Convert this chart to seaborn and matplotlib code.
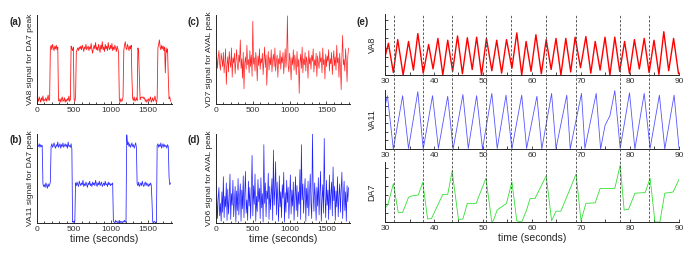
import numpy as np
import pandas as pd
import matplotlib
matplotlib.use("Agg")
import matplotlib.pyplot as plt
import seaborn as sns
from matplotlib.ticker import MultipleLocator

sns.set_style("ticks")
plt.rcParams['font.family'] = ['Liberation Sans', 'DejaVu Sans']

# long recordings, one value every DT seconds (0 ... 1800 s)
DT = 10

# (a) VA8 signal for DA7 peak
va8_long = [
    0.04, 0.06, 0.03, 0.08, 0.05, 0.02, 0.07, 0.04, 0.09, 0.03,
    0.05, 0.04, 0.07, 0.03, 0.06, 0.10, 0.04, 0.05, 0.62, 0.66,
    0.61, 0.67, 0.63, 0.60, 0.65, 0.62, 0.66, 0.61, 0.64, 0.04,
    0.03, 0.06, 0.02, 0.05, 0.08, 0.03, 0.04, 0.07, 0.02, 0.05,
    0.03, 0.06, 0.04, 0.09, 0.03, 0.05, 0.65, 0.62, 0.60, 0.64,
    0.05, 0.03, 0.08, 0.58, 0.61, 0.63, 0.60, 0.64, 0.62, 0.65,
    0.61, 0.66, 0.63, 0.59, 0.64, 0.62, 0.67, 0.61, 0.63, 0.65,
    0.60, 0.64, 0.62, 0.68, 0.61, 0.57, 0.63, 0.66, 0.62, 0.69,
    0.61, 0.64, 0.60, 0.67, 0.63, 0.58, 0.66, 0.62, 0.70, 0.61,
    0.64, 0.59, 0.67, 0.62, 0.65, 0.60, 0.69, 0.63, 0.61, 0.66,
    0.62, 0.68, 0.60, 0.64, 0.61, 0.66, 0.63, 0.59, 0.65, 0.62,
    0.58, 0.05, 0.02, 0.06, 0.03, 0.04, 0.08, 0.60, 0.66, 0.70,
    0.63, 0.61, 0.67, 0.64, 0.60, 0.65, 0.62, 0.66, 0.28, 0.06,
    0.04, 0.08, 0.03, 0.05, 0.07, 0.04, 0.63, 0.60, 0.30, 0.05,
    0.07, 0.08, 0.07, 0.08, 0.06, 0.07, 0.03, 0.05, 0.02, 0.04,
    0.06, 0.03, 0.05, 0.08, 0.02, 0.04, 0.07, 0.03, 0.05, 0.09,
    0.04, 0.02, 0.06, 0.63, 0.67, 0.72, 0.64, 0.61, 0.66, 0.62,
    0.65, 0.60, 0.64, 0.35, 0.63, 0.58, 0.62, 0.30, 0.06, 0.08,
    0.03,
]

# (b) VA11 signal for DA7 peak
va11_long = [
    0.84, 0.87, 0.86, 0.89, 0.85, 0.88, 0.86, 0.87, 0.44, 0.41,
    0.43, 0.40, 0.45, 0.42, 0.39, 0.44, 0.41, 0.43, 0.46, 0.86,
    0.89, 0.85, 0.87, 0.90, 0.86, 0.84, 0.88, 0.86, 0.91, 0.85,
    0.87, 0.89, 0.84, 0.88, 0.86, 0.90, 0.85, 0.87, 0.89, 0.86,
    0.88, 0.84, 0.91, 0.86, 0.87, 0.85, 0.89, 0.83, 0.01, 0.02,
    0.00, 0.02, 0.45, 0.42, 0.46, 0.43, 0.41, 0.47, 0.44, 0.42,
    0.45, 0.43, 0.48, 0.41, 0.44, 0.42, 0.46, 0.43, 0.40, 0.45,
    0.43, 0.47, 0.42, 0.44, 0.41, 0.46, 0.43, 0.45, 0.42, 0.48,
    0.44, 0.41, 0.45, 0.43, 0.47, 0.42, 0.44, 0.46, 0.41, 0.43,
    0.45, 0.42, 0.47, 0.43, 0.44, 0.41, 0.46, 0.43, 0.45, 0.42,
    0.44, 0.43, 0.45, 0.02, 0.01, 0.00, 0.03, 0.01, 0.02, 0.00,
    0.01, 0.03, 0.00, 0.02, 0.01, 0.00, 0.02, 0.01, 0.03, 0.01,
    0.02, 0.99, 0.88, 0.91, 0.86, 0.89, 0.85, 0.87, 0.90, 0.86,
    0.88, 0.84, 0.87, 0.90, 0.85, 0.44, 0.42, 0.46, 0.41, 0.43,
    0.45, 0.42, 0.47, 0.43, 0.41, 0.44, 0.46, 0.42, 0.45, 0.43,
    0.41, 0.44, 0.42, 0.45, 0.43, 0.25, 0.01, 0.00, 0.02, 0.01,
    0.00, 0.02, 0.87, 0.89, 0.85, 0.88, 0.86, 0.90, 0.84, 0.87,
    0.89, 0.85, 0.88, 0.86, 0.87, 0.84, 0.88, 0.86, 0.52, 0.43,
    0.45,
]

# (c) VD7 signal for AVAL peak
vd7_long = [
    0.48, 0.55, 0.40, 0.52, 0.60, 0.45, 0.38, 0.57, 0.50, 0.42,
    0.58, 0.35, 0.47, 0.62, 0.22, 0.44, 0.53, 0.36, 0.59, 0.48,
    0.41, 0.63, 0.30, 0.52, 0.46, 0.57, 0.34, 0.49, 0.61, 0.43,
    0.38, 0.55, 0.47, 0.72, 0.40, 0.51, 0.29, 0.58, 0.17, 0.46,
    0.53, 0.39, 0.66, 0.44, 0.50, 0.35, 0.60, 0.42, 0.55, 0.31,
    0.93, 0.45, 0.52, 0.37, 0.58, 0.48, 0.26, 0.54, 0.43, 0.62,
    0.39, 0.51, 0.46, 0.57, 0.33, 0.49, 0.64, 0.41, 0.55, 0.21,
    0.47, 0.59, 0.38, 0.52, 0.44, 0.61, 0.36, 0.50, 0.56, 0.42,
    0.63, 0.37, 0.48, 0.55, 0.30, 0.51, 0.45, 0.60, 0.39, 0.53,
    0.46, 0.58, 0.34, 0.49, 0.62, 0.41, 0.54, 0.99, 0.43, 0.36,
    0.57, 0.48, 0.27, 0.52, 0.44, 0.61, 0.38, 0.55, 0.47, 0.33,
    0.59, 0.42, 0.50, 0.12, 0.46, 0.56, 0.40, 0.64, 0.35, 0.51,
    0.44, 0.58, 0.37, 0.53, 0.47, 0.29, 0.60, 0.45, 0.52, 0.39,
    0.55, 0.48, 0.62, 0.36, 0.50, 0.43, 0.57, 0.31, 0.54, 0.46,
    0.40, 0.59, 0.47, 0.52, 0.35, 0.63, 0.44, 0.50, 0.28, 0.56,
    0.42, 0.54, 0.48, 0.61, 0.37, 0.51, 0.45, 0.58, 0.33, 0.49,
    0.60, 0.43, 0.53, 0.38, 0.66, 0.46, 0.52, 0.30, 0.57, 0.41,
    0.16, 0.55, 0.77, 0.44, 0.50, 0.37, 0.62, 0.47, 0.25, 0.53,
    0.63,
]

# (d) VD6 signal for AVAL peak
vd6_long = [
    0.15, 0.32, 0.05, 0.28, 0.40, 0.08, 0.22, 0.02, 0.35, 0.12,
    0.52, 0.06, 0.30, 0.18, 0.45, 0.03, 0.38, 0.10, 0.27, 0.55,
    0.04, 0.33, 0.20, 0.48, 0.07, 0.25, 0.41, 0.01, 0.36, 0.14,
    0.50, 0.09, 0.29, 0.44, 0.02, 0.37, 0.16, 0.53, 0.06, 0.31,
    0.58, 0.11, 0.26, 0.03, 0.47, 0.19, 0.40, 0.05, 0.34, 0.76,
    0.08, 0.42, 0.21, 0.55, 0.02, 0.30, 0.13, 0.49, 0.24, 0.39,
    0.05, 0.51, 0.17, 0.33, 0.01, 0.88, 0.22, 0.45, 0.07, 0.36,
    0.27, 0.56, 0.04, 0.41, 0.15, 0.32, 0.50, 0.03, 0.82, 0.20,
    0.38, 0.69, 0.09, 0.46, 0.25, 0.02, 0.53, 0.18, 0.35, 0.06,
    0.43, 0.28, 0.57, 0.01, 0.34, 0.12, 0.48, 0.23, 0.40, 0.05,
    0.31, 0.54, 0.10, 0.37, 0.19, 0.46, 0.03, 0.29, 0.52, 0.14,
    0.42, 0.07, 0.35, 0.21, 0.60, 0.04, 0.88, 0.26, 0.44, 0.11,
    0.33, 0.50, 0.02, 0.39, 0.17, 0.47, 0.08, 0.31, 0.55, 0.22,
    0.05, 1.00, 0.36, 0.13, 0.45, 0.28, 0.03, 0.40, 0.19, 0.51,
    0.09, 0.34, 0.58, 0.02, 0.26, 0.43, 0.11, 0.95, 0.30, 0.06,
    0.48, 0.20, 0.37, 0.04, 0.54, 0.15, 0.32, 0.46, 0.08, 0.63,
    0.25, 0.41, 0.03, 0.36, 0.18, 0.52, 0.07, 0.30, 0.44, 0.12,
    0.38, 0.57, 0.05, 0.29, 0.47, 0.14, 0.35, 0.02, 0.42, 0.24,
    0.40,
]

# (e) zoom on 30-90 s: (time, value) vertices
va8_short = [
    (30.0, 0.30), (30.7, 0.52), (31.7, 0.04), (32.6, 0.58), (33.7, 0.00),
    (34.8, 0.55), (35.8, 0.08), (36.7, 0.68), (37.8, 0.03), (38.9, 0.50),
    (39.8, 0.10), (40.8, 0.60), (41.8, 0.00), (42.8, 0.57), (43.8, 0.06),
    (44.8, 0.64), (45.8, 0.02), (46.8, 0.61), (47.8, 0.09), (48.7, 0.62),
    (49.7, 0.00), (50.7, 0.60), (51.8, 0.07), (52.8, 0.57), (53.8, 0.03),
    (54.8, 0.58), (55.9, 0.11), (56.9, 0.69), (57.9, 0.00), (58.8, 0.55),
    (59.8, 0.06), (60.8, 0.66), (61.9, 0.02), (62.9, 0.58), (63.9, 0.09),
    (64.9, 0.60), (65.9, 0.00), (66.9, 0.60), (67.9, 0.05), (68.8, 0.62),
    (69.9, 0.12), (71.0, 0.63), (72.0, 0.03), (72.9, 0.55), (73.9, 0.08),
    (74.9, 0.62), (75.9, 0.00), (76.9, 0.62), (77.9, 0.06), (78.9, 0.55),
    (79.9, 0.02), (80.9, 0.58), (81.9, 0.10), (82.9, 0.60), (83.9, 0.04),
    (84.9, 0.57), (85.9, 0.01), (86.9, 0.71), (87.9, 0.07), (88.9, 0.60),
    (89.9, 0.02),
]
va11_short = [
    (30.0, 0.75), (30.5, 0.93), (31.7, 0.00), (33.6, 0.93), (34.8, 0.01),
    (36.7, 1.00), (37.8, 0.00), (39.7, 0.93), (40.9, 0.01), (42.8, 0.92),
    (43.9, 0.00), (45.9, 0.95), (47.0, 0.01), (48.7, 0.93), (49.9, 0.00),
    (51.8, 0.97), (52.9, 0.01), (54.7, 0.94), (55.9, 0.00), (57.9, 0.94),
    (58.9, 0.01), (61.0, 0.92), (62.0, 0.00), (64.0, 0.97), (64.9, 0.01),
    (67.1, 0.94), (67.8, 0.00), (70.1, 0.97), (70.8, 0.01), (73.1, 0.97),
    (74.0, 0.00), (74.9, 0.41), (75.9, 0.58), (76.9, 1.02), (78.0, 0.01),
    (79.9, 0.98), (81.0, 0.00), (82.9, 0.97), (84.1, 0.01), (86.0, 0.94),
    (87.1, 0.00), (89.0, 0.94), (90.0, 0.02),
]
da7_short = [
    (30.0, 0.23), (30.6, 0.29), (31.7, 0.64), (32.7, 0.16), (33.6, 0.16),
    (34.8, 0.41), (35.2, 0.43), (36.8, 0.45), (37.7, 0.66), (38.7, 0.05),
    (39.5, 0.06), (41.8, 0.46), (42.8, 0.46), (43.7, 0.85), (45.0, 0.04),
    (45.9, 0.05), (46.8, 0.31), (48.6, 0.31), (50.6, 0.73), (51.8, 0.00),
    (52.1, 0.02), (52.9, 0.20), (54.8, 0.31), (55.9, 0.67), (56.9, 0.02),
    (57.9, 0.00), (58.9, 0.20), (59.6, 0.39), (60.6, 0.39), (62.9, 0.77),
    (64.0, 0.02), (64.9, 0.18), (65.9, 0.18), (69.0, 0.80), (70.0, 0.02),
    (71.0, 0.31), (72.9, 0.32), (73.9, 0.56), (76.9, 0.56), (78.0, 0.95),
    (78.8, 0.20), (79.7, 0.21), (81.0, 0.48), (83.1, 0.49), (84.1, 0.73),
    (85.1, 0.00), (86.1, 0.00), (87.1, 0.48), (88.8, 0.50), (90.0, 0.71),
]
# DA7 peak times marked by the dashed lines
da7_peaks = [31.8, 37.8, 43.7, 50.6, 55.8, 62.9, 68.9, 77.9, 83.9]

W, H = 691, 259
fig = plt.figure(figsize=(W / 100, H / 100), dpi=100)


def px_axes(left, top, right, bottom):
    # axes box given in pixels measured from the top-left corner
    return fig.add_axes([left / W, 1 - bottom / H, (right - left) / W, (bottom - top) / H])


def long_df(values):
    return pd.DataFrame({'t': np.arange(len(values)) * DT, 'v': values})


def short_df(pairs):
    return pd.DataFrame(pairs, columns=['t', 'v'])


def style_long(ax, ylabel, xlabel=None):
    sns.despine(ax=ax)
    ax.set_xlim(0, 1820)
    ax.set_ylim(0, 1)
    ax.set_xticks([0, 500, 1000, 1500])
    ax.xaxis.set_minor_locator(MultipleLocator(100))
    ax.set_yticks([])
    ax.tick_params(axis='x', which='major', direction='in', length=2.5, width=0.6,
                   labelsize=6, pad=2, colors='#333333')
    ax.tick_params(axis='x', which='minor', direction='in', length=1.8, width=0.6)
    ax.set_ylabel(ylabel, fontsize=6, labelpad=2)
    ax.set_xlabel(xlabel if xlabel else '', fontsize=7.5, labelpad=1)
    for s in ax.spines.values():
        s.set_linewidth(0.7)


def style_short(ax, ylabel, xlabel=None):
    sns.despine(ax=ax)
    ax.set_facecolor('none')
    ax.set_xlim(30, 90)
    ax.set_xticks(range(30, 91, 10))
    ax.xaxis.set_minor_locator(MultipleLocator(5))
    ax.yaxis.set_major_locator(MultipleLocator(0.15))
    ax.tick_params(axis='x', which='major', direction='in', length=2.5, width=0.6,
                   labelsize=6, pad=2, colors='#333333')
    ax.tick_params(axis='x', which='minor', direction='in', length=2, width=0.6)
    ax.tick_params(axis='y', direction='in', length=2.5, width=0.6, labelleft=False)
    ax.set_ylabel(ylabel, fontsize=6.5, labelpad=6)
    ax.set_xlabel(xlabel if xlabel else '', fontsize=7.5, labelpad=1)
    for s in ax.spines.values():
        s.set_linewidth(0.7)


# ---- (a) and (b)
ax_a = px_axes(37, 15, 172, 104)
sns.lineplot(data=long_df(va8_long), x='t', y='v', ax=ax_a, color='#ff1a1a', linewidth=0.6)
style_long(ax_a, 'VA8 signal for DA7 peak')

ax_b = px_axes(37, 134, 172, 223)
sns.lineplot(data=long_df(va11_long), x='t', y='v', ax=ax_b, color='#3333ff', linewidth=0.6)
style_long(ax_b, 'VA11 signal for DA7 peak', 'time (seconds)')

# ---- (c) and (d)
ax_c = px_axes(216, 15, 350, 104)
sns.lineplot(data=long_df(vd7_long), x='t', y='v', ax=ax_c, color='#ff2020', linewidth=0.5)
style_long(ax_c, 'VD7 signal for AVAL peak')

ax_d = px_axes(216, 134, 350, 223)
sns.lineplot(data=long_df(vd6_long), x='t', y='v', ax=ax_d, color='#2020ff', linewidth=0.5)
style_long(ax_d, 'VD6 signal for AVAL peak', 'time (seconds)')

# ---- (e) three stacked traces
ax_e1 = px_axes(385, 14, 679, 75)
sns.lineplot(data=short_df(va8_short), x='t', y='v', ax=ax_e1, color='#ff0000', linewidth=1.0)
style_short(ax_e1, 'VA8')
ax_e1.set_ylim(0, 1)

ax_e2 = px_axes(385, 90, 679, 149)
sns.lineplot(data=short_df(va11_short), x='t', y='v', ax=ax_e2, color='#5555ff', linewidth=0.6)
style_short(ax_e2, 'VA11')
ax_e2.set_ylim(0, 1.03)

ax_e3 = px_axes(385, 162, 679, 222)
sns.lineplot(data=short_df(da7_short), x='t', y='v', ax=ax_e3, color='#33e033', linewidth=0.6)
style_short(ax_e3, 'DA7', 'time (seconds)')
ax_e3.set_ylim(0, 1)

# dashed markers spanning all three traces (drawn from the last axes so they sit on top)
p1, p3 = ax_e1.get_position(), ax_e3.get_position()
ytop = (p1.y1 - p3.y0) / p3.height
for tp in da7_peaks:
    ax_e3.axvline(tp, ymin=0, ymax=ytop, clip_on=False, color='#444444',
                  linewidth=0.6, linestyle=(0, (3, 2)))

# panel letters
for lab, x, y in [('(a)', 10, 22), ('(b)', 10, 140), ('(c)', 187, 22),
                  ('(d)', 187, 140), ('(e)', 357, 22)]:
    fig.text(x / W, 1 - y / H, lab, fontsize=7, fontweight='bold', ha='left', va='center')

fig.savefig('out.png', dpi=100)
print("saved out.png")
